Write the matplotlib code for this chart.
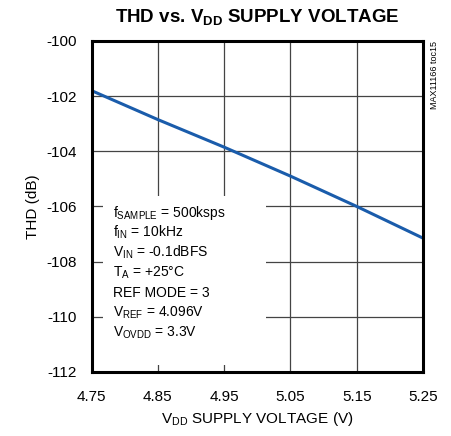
import matplotlib
matplotlib.use('Agg')
from matplotlib import pyplot as plt
from matplotlib.patches import Rectangle

plt.rcParams['font.family'] = ['Liberation Sans', 'DejaVu Sans']
plt.rcParams['mathtext.fontset'] = 'custom'
plt.rcParams['mathtext.rm'] = 'Liberation Sans'
plt.rcParams['mathtext.it'] = 'Liberation Sans'
plt.rcParams['mathtext.bf'] = 'Liberation Sans:bold'

# supply voltage (V) and THD (dB)
vdd = [4.75, 4.85, 4.95, 5.05, 5.15, 5.25]
thd = [-101.8, -102.85, -103.85, -104.9, -106.0, -107.15]

x_ticks = [4.75, 4.85, 4.95, 5.05, 5.15, 5.25]
y_ticks = [-100, -102, -104, -106, -108, -110, -112]

conditions = [
    r'f$_{\mathrm{SAMPLE}}$ = 500ksps',
    r'f$_{\mathrm{IN}}$ = 10kHz',
    r'V$_{\mathrm{IN}}$ = -0.1dBFS',
    r'T$_{\mathrm{A}}$ = +25°C',
    'REF MODE = 3',
    r'V$_{\mathrm{REF}}$ = 4.096V',
    r'V$_{\mathrm{OVDD}}$ = 3.3V',
]

fig = plt.figure(figsize=(4.51, 4.36), dpi=100)
ax = fig.add_axes([0.203, 0.147, 0.735, 0.759])

ax.plot(vdd, thd, color='#1a5cab', linewidth=2.2, zorder=4)

ax.set_xlim(4.75, 5.25)
ax.set_ylim(-112, -100)
ax.set_xticks(x_ticks)
ax.set_xticklabels(['%.2f' % v for v in x_ticks])
ax.set_yticks(y_ticks)
ax.set_yticklabels(['%d' % v for v in y_ticks])
ax.tick_params(length=0, labelsize=11)
ax.tick_params(axis='x', pad=13)
ax.tick_params(axis='y', pad=10.5)
ax.grid(True, color='#444444', linewidth=0.9)
ax.set_axisbelow(True)
for s in ax.spines.values():
    s.set_linewidth(2.2)
    s.set_zorder(5)

# white box behind the test conditions
ax.add_patch(Rectangle((0.035, 0.021), 0.49, 0.511, transform=ax.transAxes,
                       facecolor='white', edgecolor='none', zorder=2))
for i, line in enumerate(conditions):
    ax.text(0.065, 0.468 - i * 0.0604, line, transform=ax.transAxes,
            fontsize=10, va='baseline', ha='left', zorder=3)

ax.set_xlabel(r'V$_{\mathrm{DD}}$ SUPPLY VOLTAGE (V)', fontsize=11, labelpad=4)
ax.set_ylabel('THD (dB)', fontsize=11, labelpad=5)
ax.set_title(r'THD vs. V$_{\mathbf{DD}}$ SUPPLY VOLTAGE', fontsize=13.5,
             fontweight='bold', pad=14)

fig.text(0.963, 0.905, 'MAX11166 toc15', rotation=90, fontsize=6.5,
         va='top', ha='center')

fig.savefig('out.png', dpi=100)
